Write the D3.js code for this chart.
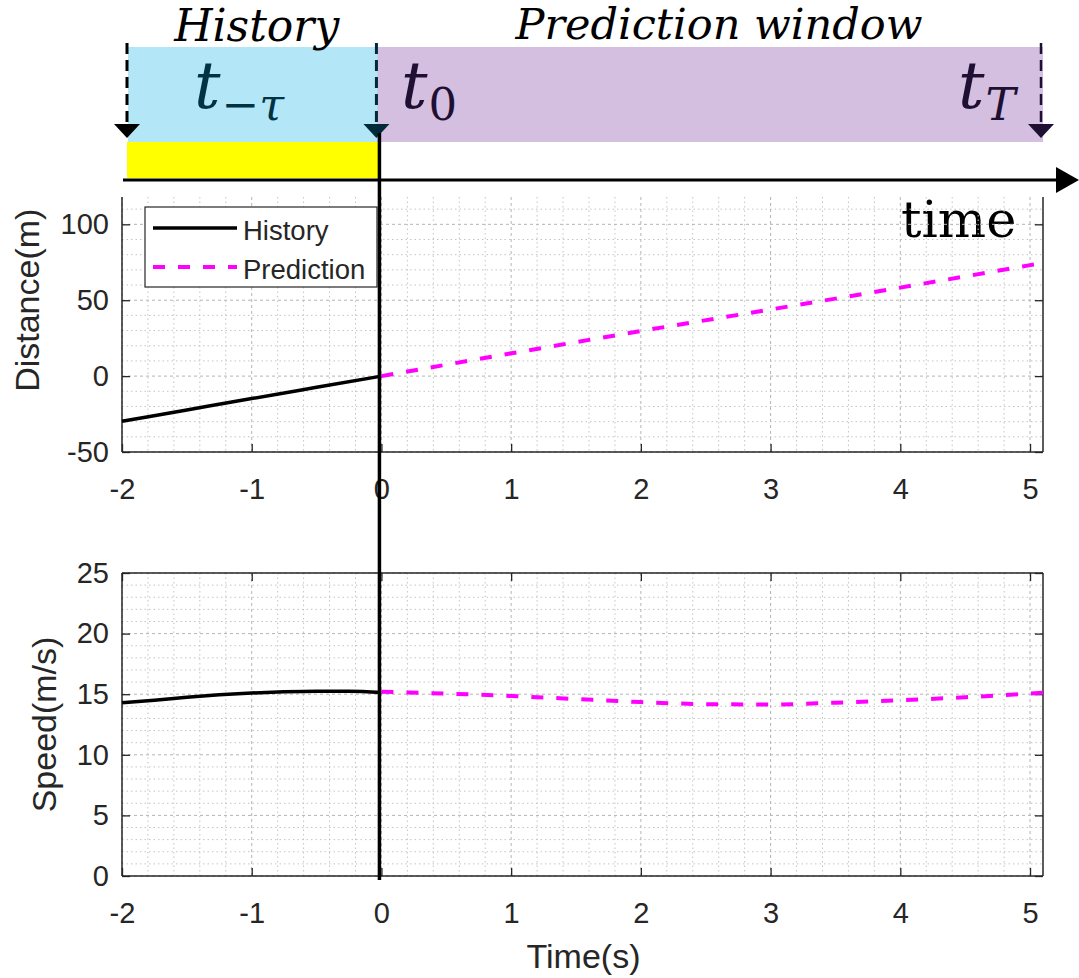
<!DOCTYPE html>
<html>
<head>
<meta charset="utf-8">
<script src="https://cdn.jsdelivr.net/npm/d3@7"></script>
<style>
  body { margin: 0; background: #fff; }
  svg { display: block; }
</style>
</head>
<body>
<svg id="chart" width="1079" height="978"></svg>
<script>
// time ticks shared by both panels
let timeTicks = [-2, -1, 0, 1, 2, 3, 4, 5];
let distTicks = [-50, 0, 50, 100];
let speedTicks = [0, 5, 10, 15, 20, 25];

// distance (m)
let histTime = [-2, -1.5, -1, -0.5, 0];
let histDist = [-29.8, -22.3, -14.8, -7.4, 0];
let predTime = [0, 1, 2, 3, 4, 5, 5.1];
let predDist = [0, 15.0, 29.7, 43.9, 58.3, 73.1, 74.6];

// speed (m/s)
let histSpeedTime = [-2, -1.75, -1.5, -1.25, -1, -0.75, -0.5, -0.25, 0];
let histSpeed = [14.3, 14.5, 14.75, 14.95, 15.1, 15.2, 15.25, 15.25, 15.15];
let predSpeedTime = [0, 0.5, 1, 1.5, 2, 2.5, 3, 3.5, 4, 4.5, 5, 5.1];
let predSpeed = [15.2, 15.05, 14.85, 14.6, 14.35, 14.18, 14.15, 14.3, 14.5, 14.75, 15.05, 15.12];

let legendNames = ['History', 'Prediction'];

// small stand-in for d3-selection-multi
d3.selection.prototype.attrs = function(o) {
	for (let k in o) this.attr(k, o[k]);
	return this;
};

let axisColor = '#262626';
let left = 122, right = 1043;
let sans = 'Liberation Sans, Arial';

let svg = d3.select('#chart');

let x = d3.scaleLinear()
			.domain([-2, 5.1])
			.range([left, right]);

let yDist = d3.scaleLinear().domain([-50, 118]).range([452, 197]);
let ySpeed = d3.scaleLinear().domain([0, 25]).range([876, 573]);

// ---------- banner ----------
let banner = svg.append('g');

banner.append('rect')
		.attrs({ x: x(-2) + 6, y: 47, width: x(0) - x(-2) - 9, height: 95, fill: '#b3e6f7' });
banner.append('rect')
		.attrs({ x: x(0) - 4, y: 47, width: x(5.1) - x(0) + 4, height: 95, fill: '#d4bfe1' });
banner.append('rect')
		.attrs({ x: x(-2) + 5, y: 142, width: x(0) - x(-2) - 8, height: 36, fill: '#ffff00' });

banner.append('text')
		.attrs({ x: (x(-2) + x(0)) / 2 + 5, y: 41, 'text-anchor': 'middle',
			'font-family': 'DejaVu Serif', 'font-style': 'italic', 'font-size': 44, fill: '#000' })
		.text('History');
banner.append('text')
		.attrs({ x: 719, y: 39, 'text-anchor': 'middle',
			'font-family': 'DejaVu Serif', 'font-style': 'italic', 'font-size': 43, fill: '#000' })
		.text('Prediction window');

function tLabel(px, sub, color, subItalic) {
	let t = banner.append('text')
			.attrs({ x: px, y: 108, 'font-family': 'DejaVu Serif', 'font-style': 'italic',
				'font-size': 66, fill: color });
	t.append('tspan').text('t');
	t.append('tspan')
			.attrs({ dy: 12, dx: 1, 'font-size': 45, 'font-style': subItalic ? 'italic' : 'normal' })
			.text(sub);
}
tLabel(194, '\u2212\u03c4', '#003444', true);
tLabel(401, '0', '#1e0f33', false);
tLabel(958, 'T', '#1e0f33', true);

// dashed markers with arrow heads
function marker(px, color, w) {
	banner.append('line')
			.attrs({ x1: px, x2: px, y1: 43, y2: 126, stroke: color, 'stroke-width': w,
				'stroke-dasharray': '11,6' });
	banner.append('path')
			.attr('d', d3.line()([[px - 13, 124], [px + 13, 124], [px, 138]]))
			.attr('fill', color);
}
marker(x(-2) + 5, '#000', 3);
marker(x(0) - 5, '#002a38', 3);
marker(x(5.1) - 2, '#1e0f33', 2.5);

// time arrow
banner.append('line')
		.attrs({ x1: x(-2) + 1, x2: 1060, y1: 180, y2: 180, stroke: '#000', 'stroke-width': 3 });
banner.append('path')
		.attr('d', d3.line()([[1056, 167], [1079, 180], [1056, 193]]))
		.attr('fill', '#000');
banner.append('text')
		.attrs({ x: 901, y: 237, 'font-family': 'DejaVu Serif', 'font-size': 51, fill: '#000' })
		.text('time');

// ---------- panels ----------
function panel(y, yTicks, minorStep, label, labelX, labelY, showTop) {
	let g = svg.append('g');
	let y0 = y.range()[0], y1 = y.range()[1];

	// minor grid
	let minorX = d3.range(-2, 5.1001, 0.2).filter(v => Math.abs(v - Math.round(v)) > 1e-6);
	let minorY = d3.range(y.domain()[0], y.domain()[1] + 1e-6, minorStep)
			.filter(v => yTicks.indexOf(Math.round(v * 1000) / 1000) < 0);
	g.selectAll('.mx').data(minorX).enter().append('line')
			.attrs({ x1: d => x(d), x2: d => x(d), y1: y1, y2: y0,
				stroke: '#c4c4c4', 'stroke-width': 1, 'stroke-dasharray': '1.5,3' });
	g.selectAll('.my').data(minorY).enter().append('line')
			.attrs({ x1: left, x2: right, y1: d => y(d), y2: d => y(d),
				stroke: '#c4c4c4', 'stroke-width': 1, 'stroke-dasharray': '1.5,3' });
	// major grid
	g.selectAll('.gx').data(timeTicks).enter().append('line')
			.attrs({ x1: d => x(d), x2: d => x(d), y1: y1, y2: y0,
				stroke: '#b4b4b4', 'stroke-width': 1, 'stroke-dasharray': '3,3' });
	g.selectAll('.gy').data(yTicks).enter().append('line')
			.attrs({ x1: left, x2: right, y1: d => y(d), y2: d => y(d),
				stroke: '#b4b4b4', 'stroke-width': 1, 'stroke-dasharray': '3,3' });

	// axes with inward ticks, plain hyphen for negatives
	let fmt = d => String(d);
	let bottom = g.append('g')
			.attr('transform', 'translate(0,' + y0 + ')')
			.call(d3.axisBottom(x).tickValues(timeTicks).tickFormat(fmt)
				.tickSizeInner(-8).tickSizeOuter(0).tickPadding(26));
	let leftAx = g.append('g')
			.attr('transform', 'translate(' + left + ',0)')
			.call(d3.axisLeft(y).tickValues(yTicks).tickFormat(fmt)
				.tickSizeInner(-8).tickSizeOuter(0).tickPadding(13));
	let rightAx = g.append('g')
			.attr('transform', 'translate(' + right + ',0)')
			.call(d3.axisLeft(y).tickValues(yTicks).tickSize(8).tickFormat(''));
	[bottom, leftAx, rightAx].forEach(a => {
		a.select('.domain').remove();
		a.selectAll('line').attr('stroke', axisColor).attr('stroke-width', 1.3);
		a.selectAll('text').attrs({ fill: axisColor, 'font-size': 29, 'font-family': sans });
	});
	if (showTop) {
		let topAx = g.append('g')
				.attr('transform', 'translate(0,' + y1 + ')')
				.call(d3.axisBottom(x).tickValues(timeTicks).tickSize(8).tickFormat(''));
		topAx.select('.domain').remove();
		topAx.selectAll('line').attr('stroke', axisColor).attr('stroke-width', 1.3);
		g.append('line').attrs({ x1: left, x2: right, y1: y1, y2: y1, stroke: axisColor, 'stroke-width': 1.5 });
	}
	g.append('line').attrs({ x1: left, x2: right, y1: y0, y2: y0, stroke: axisColor, 'stroke-width': 1.5 });
	g.append('line').attrs({ x1: left, x2: left, y1: y1, y2: y0, stroke: axisColor, 'stroke-width': 1.5 });
	g.append('line').attrs({ x1: right, x2: right, y1: y1, y2: y0, stroke: axisColor, 'stroke-width': 1.5 });

	g.append('text')
			.attrs({ transform: 'translate(' + labelX + ',' + labelY + ') rotate(-90)',
				'text-anchor': 'middle', fill: axisColor, 'font-size': 34, 'font-family': sans })
			.text(label);
	return g;
}

let topPanel = panel(yDist, distTicks, 10, 'Distance(m)', 39, yDist(50), false);
let botPanel = panel(ySpeed, speedTicks, 1, 'Speed(m/s)', 56, ySpeed(12.5), true);

svg.append('text')
		.attrs({ x: (left + right) / 2 + 1, y: 968, 'text-anchor': 'middle', fill: axisColor,
			'font-size': 34, 'font-family': sans })
		.text('Time(s)');

// ---------- series ----------
function series(g, y, ts, vs, color, dash, w) {
	let line = d3.line()
			.x(d => x(d[0]))
			.y(d => y(d[1]))
			.curve(d3.curveMonotoneX);
	g.append('path')
			.datum(d3.zip(ts, vs))
			.attrs({ d: line, fill: 'none', stroke: color, 'stroke-width': w,
				'stroke-dasharray': dash });
}
series(topPanel, yDist, histTime, histDist, '#000', null, 3.5);
series(topPanel, yDist, predTime, predDist, '#ff00ff', '12,13', 4);
series(botPanel, ySpeed, histSpeedTime, histSpeed, '#000', null, 3.5);
series(botPanel, ySpeed, predSpeedTime, predSpeed, '#ff00ff', '12,13', 4);

// ---------- legend ----------
let legend = svg.append('g').attr('transform', 'translate(145,207)');
legend.append('rect')
		.attrs({ width: 232, height: 80, fill: '#fff', stroke: axisColor, 'stroke-width': 1.2 });
let entry = legend.selectAll('g.entry')
		.data(legendNames)
	.enter().append('g')
		.attr('transform', (d, i) => 'translate(0,' + (21 + i * 39) + ')');
entry.append('line')
		.attrs({ x1: 8, x2: 92, y1: 0, y2: 0,
			stroke: (d, i) => i ? '#ff00ff' : '#000',
			'stroke-width': (d, i) => i ? 4 : 3.5,
			'stroke-dasharray': (d, i) => i ? '12,13' : null });
entry.append('text')
		.attrs({ x: 98, y: 2, 'dominant-baseline': 'central', fill: axisColor,
			'font-size': 27.5, 'font-family': sans })
		.text(d => d);

// vertical divider at t = 0
svg.append('line')
		.attrs({ x1: x(0) - 2, x2: x(0) - 2, y1: 133, y2: 880, stroke: '#000', 'stroke-width': 3.5 });
</script>
</body>
</html>
